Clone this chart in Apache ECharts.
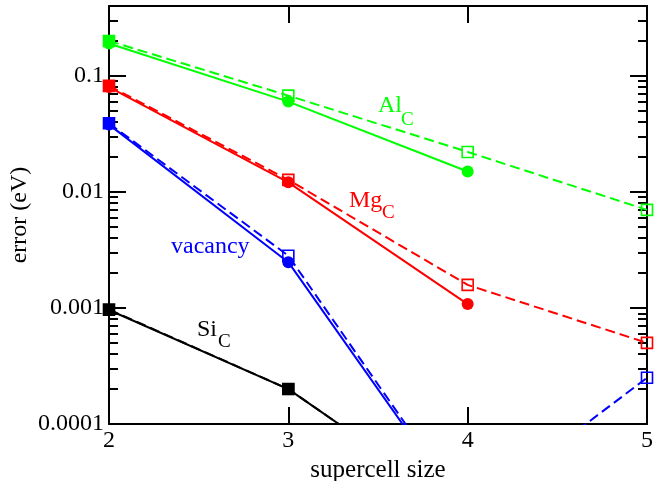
<!DOCTYPE html>
<html>
<head>
<meta charset="utf-8">
<script src="https://cdn.jsdelivr.net/npm/echarts@6/dist/echarts.min.js"></script>
<style>
html,body{margin:0;padding:0;background:#fff;}
#c{width:654px;height:481px;}
</style>
</head>
<body>
<div id="c"></div>
<script>
// ---- data ----
var sizes = [2, 3, 4, 5];
var alSolid = [0.19, 0.060, 0.0150];
var alDashed = [0.20, 0.0676, 0.0221, 0.0070];
var mgSolid = [0.080, 0.0121, 0.00108];
var mgDashed = [0.082, 0.0127, 0.00158, 0.00050];
var vacSolid = [0.038, 0.00248, 0.000016];
var vacDashed = [0.039, 0.00282, 0.000017, 0.00025];
var siSolid = [0.00096, 0.00020, 0.000017];
var siDashed = [0.00097, 0.00020, 0.000017];
var yMajorTicks = [0.0001, 0.001, 0.01, 0.1];
var yMinorTicks = [];
[0.0001, 0.001, 0.01, 0.1].forEach(function (d) {
  for (var k = 2; k <= 9; k++) { var v = +(d * k).toPrecision(3); if (v <= 0.4) yMinorTicks.push(v); }
});
var xTicks = [2, 3, 4, 5];
var xTitle = 'supercell size';
var yTitle = 'error (eV)';

var FONT = 'Liberation Serif';
var GREEN = '#00ff00', RED = '#ff0000', BLUE = '#0000ff', BLACK = '#000000';
function pairs(vals) { return vals.map(function (v, i) { return [sizes[i], v]; }); }

function solidSeries(vals, color) {
  return {
    type: 'line', data: pairs(vals), symbol: 'circle', symbolSize: 12,
    itemStyle: { color: color }, lineStyle: { color: color, width: 2, type: 'solid' },
    clip: true, z: 4, silent: true, animation: false
  };
}
function dashedSeries(vals, color, firstFilled) {
  var data = pairs(vals).map(function (p, i) {
    if (i === 0 && firstFilled) return { value: p, itemStyle: { color: color, borderColor: color } };
    return p;
  });
  return {
    type: 'line', data: data, symbol: 'rect', symbolSize: 11,
    itemStyle: { color: 'rgba(0,0,0,0)', borderColor: color, borderWidth: 1.6 },
    lineStyle: { color: color, width: 2, type: [10, 5] },
    clip: true, z: 3, silent: true, animation: false
  };
}

function yAx(pos, ticks, len, showLabel, showLine) {
  return {
    type: 'log', logBase: 10, min: 0.0001, max: 0.4, position: pos,
    axisLine: { show: showLine, lineStyle: { color: '#000', width: 2 } },
    axisTick: { show: true, inside: true, length: len, customValues: ticks, lineStyle: { color: '#000', width: 2 } },
    axisLabel: showLabel ? { show: true, customValues: yMajorTicks, color: '#000', fontFamily: FONT, fontSize: 24, margin: 5,
      formatter: function (v) { return String(v); } } : { show: false },
    minorTick: { show: false }, splitLine: { show: false },
    name: showLabel ? yTitle : '', nameLocation: 'middle', nameGap: 77, nameMoveOverlap: false,
    nameTextStyle: { color: '#000', fontFamily: FONT, fontSize: 24 }
  };
}
function xAx(pos, showLabel) {
  return {
    type: 'value', min: 2, max: 5, interval: 1, position: pos,
    axisLine: { show: true, onZero: false, lineStyle: { color: '#000', width: 2 } },
    axisTick: { show: true, inside: true, length: 17, customValues: pos === 'top' ? [3, 4] : xTicks, lineStyle: { color: '#000', width: 2 } },
    axisLabel: showLabel ? { show: true, color: '#000', fontFamily: FONT, fontSize: 24, margin: 5 } : { show: false },
    splitLine: { show: false },
    name: showLabel ? xTitle : '', nameLocation: 'middle', nameGap: 30,
    nameTextStyle: { color: '#000', fontFamily: FONT, fontSize: 25 }
  };
}

var chart = echarts.init(document.getElementById('c'), null, { renderer: 'canvas' });
var series = [
  dashedSeries(alDashed, GREEN, true), solidSeries(alSolid, GREEN),
  dashedSeries(mgDashed, RED, true), solidSeries(mgSolid, RED),
  dashedSeries(vacDashed, BLUE, true), solidSeries(vacSolid, BLUE),
  dashedSeries(siDashed, BLACK, true)
];
var siS = solidSeries(siSolid, BLACK); siS.symbol = 'rect'; siS.symbolSize = 12;
series.push(siS);

function txt(x, y, text, color, size) {
  return { type: 'text', x: x, y: y, z: 10, style: { text: text, fill: color, font: size + 'px "Liberation Serif"', verticalAlign: 'middle' } };
}

chart.setOption({
  animation: false,
  backgroundColor: '#fff',
  grid: { left: 109, right: 7, top: 6, bottom: 57, containLabel: false, outerBoundsMode: 'none' },
  xAxis: [xAx('bottom', true), xAx('top', false)],
  yAxis: [yAx('left', yMajorTicks, 17, true, true), yAx('left', yMinorTicks, 9, false, false),
          yAx('right', yMajorTicks, 17, false, true), yAx('right', yMinorTicks, 9, false, false)],
  series: series,
  graphic: [
    txt(378, 106, 'Al', GREEN, 24), txt(401, 120, 'C', GREEN, 19),
    txt(349, 201, 'Mg', RED, 24), txt(382, 213, 'C', RED, 19),
    txt(171, 247, 'vacancy', BLUE, 24),
    txt(197, 330, 'Si', BLACK, 24), txt(218, 342, 'C', BLACK, 19)
  ]
});
</script>
</body>
</html>
